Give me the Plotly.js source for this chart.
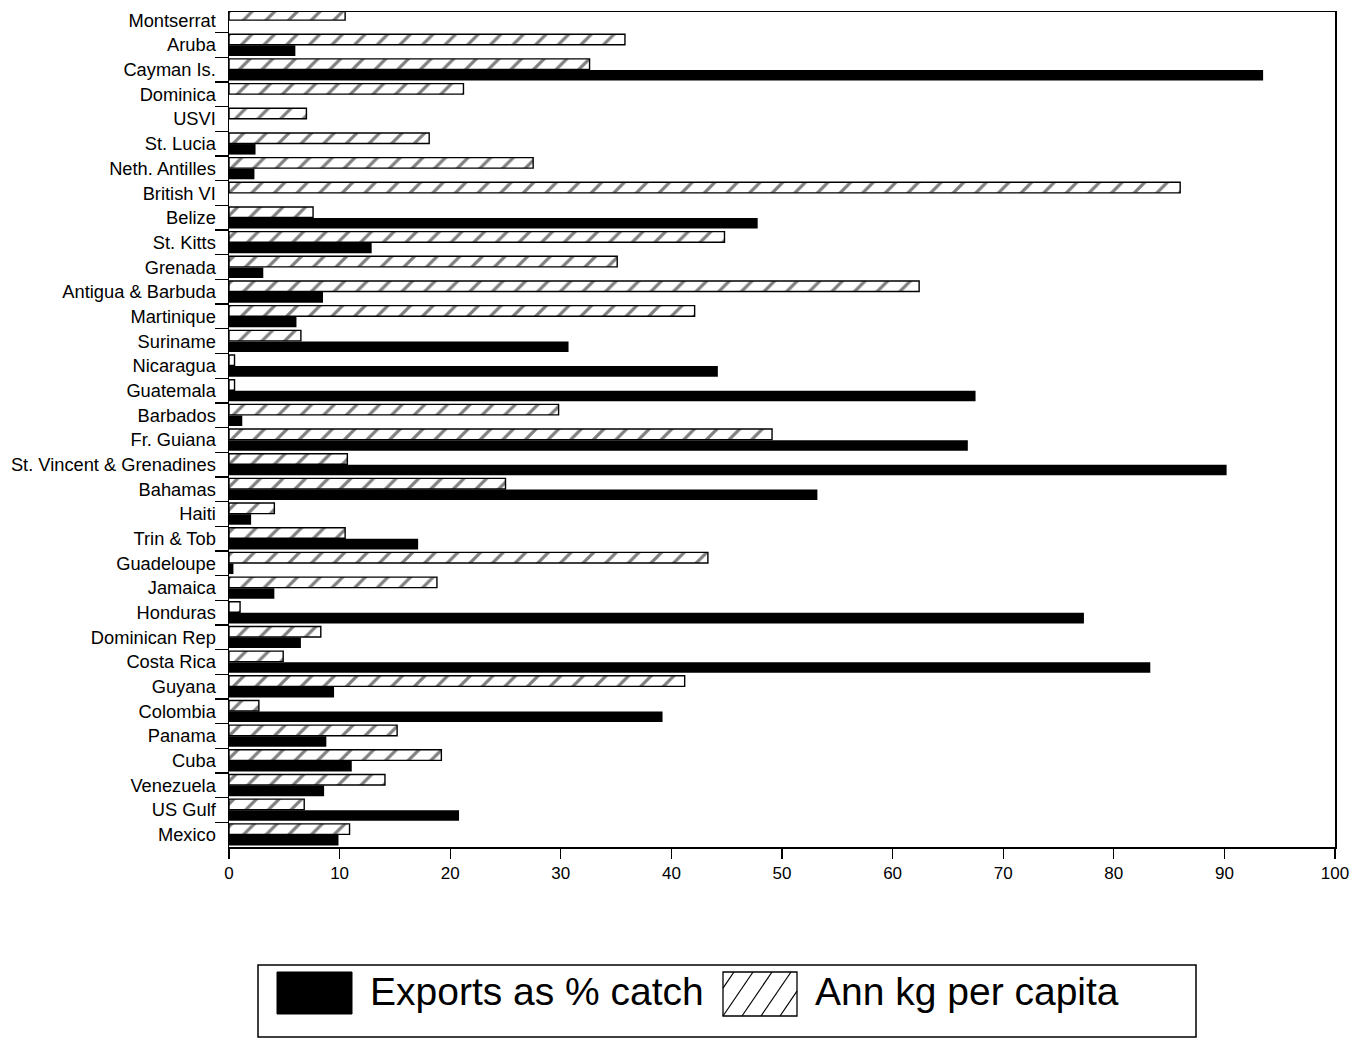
<!DOCTYPE html>
<html>
<head>
<meta charset="utf-8">
<script src="https://cdn.plot.ly/plotly-3.0.1.min.js"></script>
<style>
  html, body { margin: 0; padding: 0; background: #fff; }
  #chart { width: 1357px; height: 1040px; }
</style>
</head>
<body>
<div id="chart"></div>
<script>
// Countries, listed top to bottom
const countries = [
  "Montserrat", "Aruba", "Cayman Is.", "Dominica", "USVI", "St. Lucia",
  "Neth. Antilles", "British VI", "Belize", "St. Kitts", "Grenada",
  "Antigua & Barbuda", "Martinique", "Suriname", "Nicaragua", "Guatemala",
  "Barbados", "Fr. Guiana", "St. Vincent & Grenadines", "Bahamas", "Haiti",
  "Trin & Tob", "Guadeloupe", "Jamaica", "Honduras", "Dominican Rep",
  "Costa Rica", "Guyana", "Colombia", "Panama", "Cuba", "Venezuela",
  "US Gulf", "Mexico"
];

// Annual fish consumption, kg per capita
const kgPerCapita = [
  10.5, 35.8, 32.6, 21.2, 7.0, 18.1,
  27.5, 86.0, 7.6, 44.8, 35.1,
  62.4, 42.1, 6.5, 0.5, 0.5,
  29.8, 49.1, 10.7, 25.0, 4.1,
  10.5, 43.3, 18.8, 1.0, 8.3,
  4.9, 41.2, 2.7, 15.2, 19.2, 14.1,
  6.8, 10.9
];

// Exports as a percentage of the catch
const exportsPct = [
  0, 6.0, 93.5, 0, 0, 2.4,
  2.3, 0, 47.8, 12.9, 3.1,
  8.5, 6.1, 30.7, 44.2, 67.5,
  1.2, 66.8, 90.2, 53.2, 2.0,
  17.1, 0.4, 4.1, 77.3, 6.5,
  83.3, 9.5, 39.2, 8.8, 11.1, 8.6,
  20.8, 9.9
];

const seriesNames = ["Exports as % catch", "Ann kg per capita"];
const xTicks = [0, 10, 20, 30, 40, 50, 60, 70, 80, 90, 100];

const FONT = '"Liberation Sans", Arial, Helvetica, sans-serif';
const W = 1357, H = 1040;
const M = { l: 229, r: 22, t: 12, b: 193 };
const plotW = W - M.l - M.r;
const plotH = H - M.t - M.b;

// pixel -> paper coordinates (for the legend drawn underneath)
const px = x => (x - M.l) / plotW;
const py = y => (H - M.b - y) / plotH;

// Hatched bars first so they sit above the solid ones in each group
const hatched = {
  type: "bar",
  orientation: "h",
  name: seriesNames[1],
  y: countries,
  x: kgPerCapita,
  marker: {
    color: "white",
    line: { color: "black", width: 1.4 },
    pattern: { shape: "/", fgcolor: "black", bgcolor: "white", size: 16, solidity: 0.2, fillmode: "overlay" }
  },
  hoverinfo: "skip",
  showlegend: false
};

const solid = {
  type: "bar",
  orientation: "h",
  name: seriesNames[0],
  y: countries,
  x: exportsPct,
  marker: { color: "black", line: { width: 0 } },
  hoverinfo: "skip",
  showlegend: false
};

// Legend box built from shapes and text
const shapes = [];
const annotations = [];

shapes.push({
  type: "rect", xref: "paper", yref: "paper",
  x0: px(258), x1: px(1196), y0: py(965), y1: py(1037),
  line: { color: "black", width: 1.5 }, fillcolor: "rgba(0,0,0,0)"
});
shapes.push({
  type: "rect", xref: "paper", yref: "paper",
  x0: px(277), x1: px(352), y0: py(972), y1: py(1014),
  line: { color: "black", width: 1 }, fillcolor: "black"
});
const sw = { x0: 723, x1: 797, y0: 972, y1: 1016 };
shapes.push({
  type: "rect", xref: "paper", yref: "paper",
  x0: px(sw.x0), x1: px(sw.x1), y0: py(sw.y0), y1: py(sw.y1),
  line: { color: "black", width: 1.3 }, fillcolor: "white"
});

// diagonal hatching inside the legend swatch, clipped to its box
function clipSeg(ax, ay, bx, by, r) {
  let t0 = 0, t1 = 1;
  const dx = bx - ax, dy = by - ay;
  const p = [-dx, dx, -dy, dy];
  const q = [ax - r.x0, r.x1 - ax, ay - r.y0, r.y1 - ay];
  for (let i = 0; i < 4; i++) {
    if (p[i] === 0) { if (q[i] < 0) return null; continue; }
    const t = q[i] / p[i];
    if (p[i] < 0) { if (t > t1) return null; if (t > t0) t0 = t; }
    else { if (t < t0) return null; if (t < t1) t1 = t; }
  }
  return [ax + t0 * dx, ay + t0 * dy, ax + t1 * dx, ay + t1 * dy];
}
const hatchStep = 19, hatchRun = 30;
for (let k = -2; k < 5; k++) {
  const bx = sw.x0 + k * hatchStep;
  const seg = clipSeg(bx, sw.y1, bx + hatchRun, sw.y0, sw);
  if (!seg) continue;
  shapes.push({
    type: "line", xref: "paper", yref: "paper",
    x0: px(seg[0]), y0: py(seg[1]), x1: px(seg[2]), y1: py(seg[3]),
    line: { color: "black", width: 1.2 }
  });
}

annotations.push({
  xref: "paper", yref: "paper", x: px(368), y: py(992),
  xanchor: "left", yanchor: "middle", showarrow: false,
  text: seriesNames[0], font: { family: FONT, size: 39, color: "black" }
});
annotations.push({
  xref: "paper", yref: "paper", x: px(813), y: py(992),
  xanchor: "left", yanchor: "middle", showarrow: false,
  text: seriesNames[1], font: { family: FONT, size: 39, color: "black" }
});

const layout = {
  width: W, height: H,
  margin: M,
  paper_bgcolor: "white",
  plot_bgcolor: "white",
  barmode: "group",
  bargap: 0.1,
  bargroupgap: 0.05,
  font: { family: FONT, color: "black" },
  showlegend: false,
  xaxis: {
    range: [0, 100],
    tickmode: "array",
    tickvals: xTicks,
    ticktext: xTicks.map(String),
    ticks: "outside", ticklen: 10, tickwidth: 1.3, tickcolor: "black",
    showline: true, linecolor: "black", linewidth: 1.5, mirror: true,
    showgrid: false, zeroline: false,
    tickfont: { family: FONT, size: 17, color: "black" }
  },
  yaxis: {
    type: "category",
    range: [countries.length - 0.5, -0.34],
    tickson: "boundaries",
    ticks: "outside", ticklen: 13, tickwidth: 1.3, tickcolor: "black",
    ticklabelstandoff: 8,
    showline: true, linecolor: "black", linewidth: 1.5, mirror: true,
    showgrid: false, zeroline: false,
    tickfont: { family: FONT, size: 18.3, color: "black" }
  },
  shapes: shapes,
  annotations: annotations
};

Plotly.newPlot("chart", [hatched, solid], layout, { staticPlot: true, displayModeBar: false });
</script>
</body>
</html>
